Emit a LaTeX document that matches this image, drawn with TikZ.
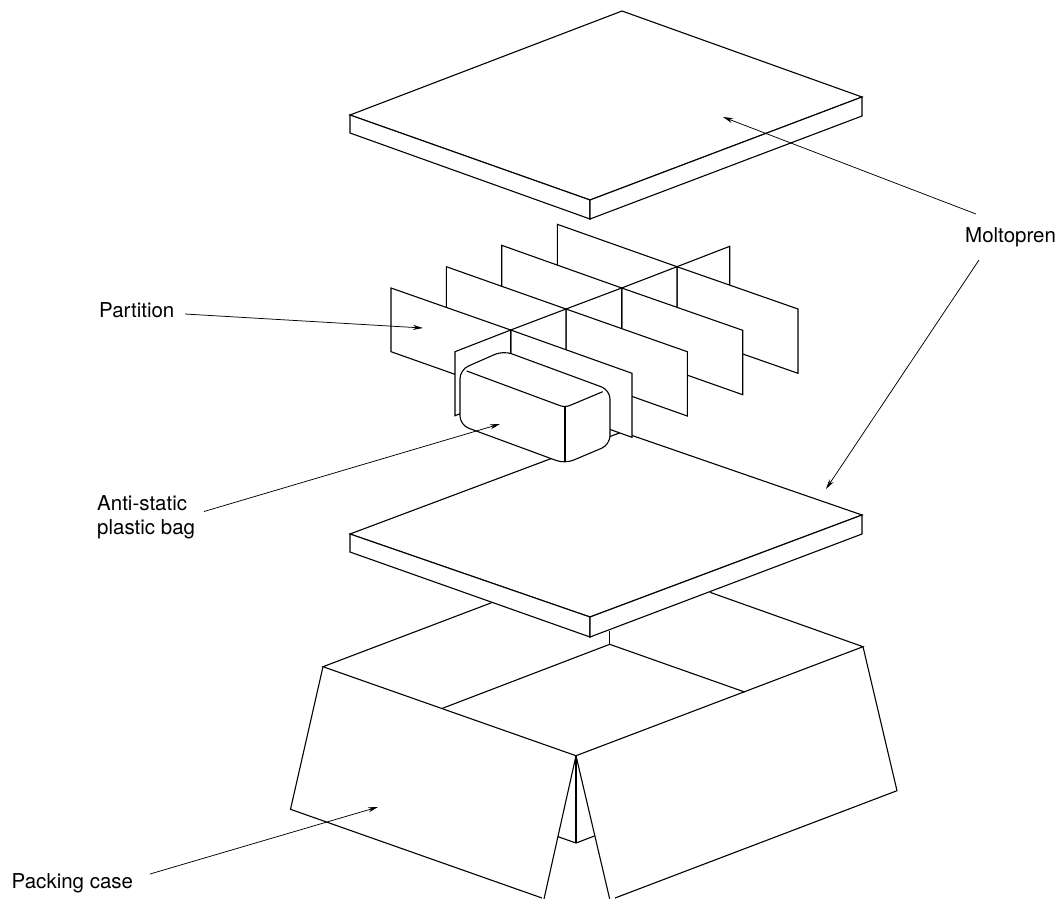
\documentclass[tikz,border=0pt]{standalone}
\usepackage{fontspec}
\setmainfont{TeX Gyre Heros}
\usetikzlibrary{arrows.meta}
\tikzset{
  edge/.style={draw=black,line width=1.1pt,line join=miter},
  solid face/.style={edge,fill=white},
  leader/.style={draw=black,line width=0.75pt,-{Stealth[length=10pt,width=5pt]}},
  callout/.style={font=\fontsize{20.5}{24}\selectfont,inner sep=0pt,align=left}
}
\begin{document}
\begin{tikzpicture}[x=1pt,y=-1pt]
\useasboundingbox (0,0) rectangle (1060,898);
\begin{scope}
\clip (0,0) rectangle (1060,898);
% ---- Packing case
\draw[edge] (491.6,602.7) -- (323,666.7) -- (576,755.7) -- (863,646.7) -- (710,592.3);
\draw[edge] (609.7,631) -- (609.7,644.3);
\draw[edge] (442.4,708.3) -- (609.7,644.3) -- (744.7,692);
\draw[edge] (323,666.7) -- (290.5,809.3) -- (542,898);
\draw[edge] (576,755.7) -- (544,899);
\draw[edge] (863,646.7) -- (897,790.7) -- (615,898);
\draw[edge] (576,755.7) -- (609.7,899);
\draw[edge] (576,755.7) -- (576,843);
\draw[edge] (558,836.7) -- (576,843) -- (594.4,836);
% ---- Lower moltopren slab
\draw[solid face] (622,432) -- (862,515) -- (590,617) -- (350,534) -- cycle;
\draw[solid face] (350,534) -- (590,617) -- (590,637) -- (350,552) -- cycle;
\draw[solid face] (590,617) -- (862,515) -- (862,534) -- (590,637) -- cycle;
% ---- Upper moltopren slab
\draw[solid face] (622,11) -- (862,97) -- (590,200) -- (350,115) -- cycle;
\draw[solid face] (350,115) -- (590,200) -- (590,219) -- (350,133) -- cycle;
\draw[solid face] (590,200) -- (862,97) -- (862,116) -- (590,219) -- cycle;
% ---- Partition, back to front
\draw[solid face] (677,266.7) -- (729.7,246.3) -- (729.7,310.3) -- (677,330.7) -- cycle;
\draw[solid face] (557.3,224.3) -- (677,266.7) -- (677,330.7) -- (557.3,288.3) -- cycle;
\draw[solid face] (677,266.7) -- (798,309) -- (798,373.3) -- (677,331) -- cycle;
\draw[solid face] (621.7,288) -- (677,266.7) -- (677,330.7) -- (621.7,352) -- cycle;
\draw[solid face] (501.7,245.3) -- (621.7,288) -- (621.7,352) -- (501.7,309.3) -- cycle;
\draw[solid face] (621.7,288) -- (742.7,330.3) -- (742.7,394.7) -- (621.7,352) -- cycle;
\draw[solid face] (566,309) -- (621.7,288) -- (621.7,352) -- (566,373) -- cycle;
\draw[solid face] (446.3,266.7) -- (566,309) -- (566,373) -- (446.3,330.7) -- cycle;
\draw[solid face] (566,309) -- (687.3,351.7) -- (687.3,416) -- (566,373) -- cycle;
\draw[solid face] (510.7,330) -- (566,309) -- (566,373) -- (510.7,394) -- cycle;
\draw[solid face] (391,288) -- (510.7,330) -- (510.7,394) -- (391,351.7) -- cycle;
\draw[solid face] (510.7,330) -- (632,373.3) -- (632,437.3) -- (510.7,394) -- cycle;
\draw[solid face] (455,351.7) -- (510.7,330) -- (510.7,394) -- (455,415.7) -- cycle;
% ---- Anti-static bag
\draw[solid face,rounded corners=9pt] (503.3,350.7) -- (610,390) -- (610,444.7) -- (565,463.7) -- (460,425) -- (460,369.7) -- cycle;
\draw[edge,rounded corners=5pt] (466.7,371) -- (565,407.5) -- (602.7,391.7);
\draw[edge] (565,406) -- (565,462);
\end{scope}
% ---- Labels
\node[callout,anchor=base west] (molto) at (965,242) {Moltopren};
\node[callout,anchor=base west] (part) at (99,317) {Partition};
\node[callout,anchor=base west] (bag) at (97,534) {Anti-static\\plastic bag};
\node[callout,anchor=base west] (case) at (11.5,888) {Packing case};
% ---- Leaders
\coordinate (moltoA) at (976,214);
\coordinate (moltoAtip) at (723,117);
\coordinate (moltoB) at (979,260);
\coordinate (moltoBtip) at (826,489);
\coordinate (partS) at (185,314);
\coordinate (partTip) at (423,328);
\coordinate (bagS) at (204,511.5);
\coordinate (bagTip) at (500,424);
\coordinate (caseS) at (150,874);
\coordinate (caseTip) at (378,807);
\draw[leader] (moltoA) -- (moltoAtip);
\draw[leader] (moltoB) -- (moltoBtip);
\draw[leader] (partS) -- (partTip);
\draw[leader] (bagS) -- (bagTip);
\draw[leader] (caseS) -- (caseTip);
\end{tikzpicture}
\end{document}
